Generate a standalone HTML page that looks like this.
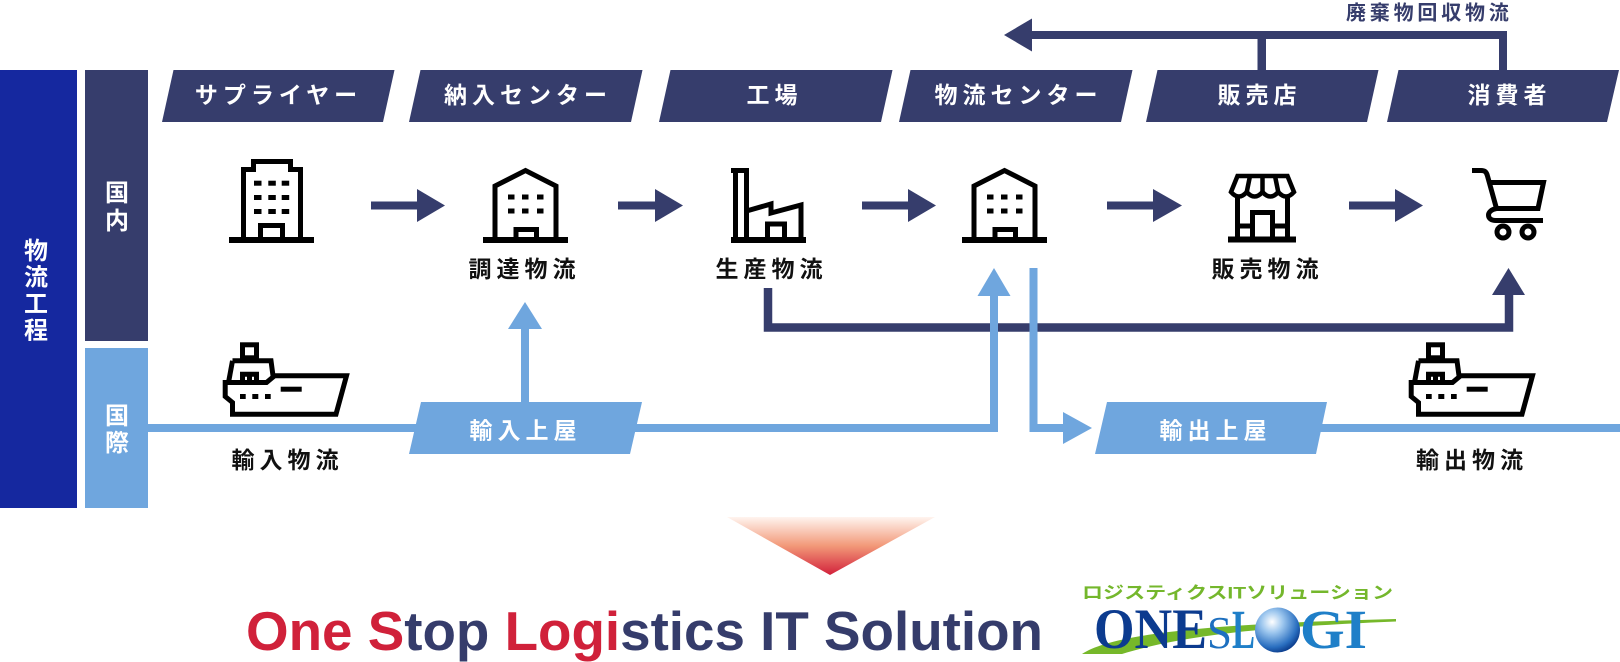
<!DOCTYPE html>
<html><head><meta charset="utf-8"><style>
html,body{margin:0;padding:0;background:#fff;}
svg{display:block;}
text{font-family:"Liberation Sans","Noto Sans CJK JP",sans-serif;font-weight:700;}
</style></head><body>
<svg width="1620" height="662" viewBox="0 0 1620 662" xmlns="http://www.w3.org/2000/svg">
<defs>
<linearGradient id="tri" x1="0" y1="0" x2="0" y2="1">
<stop offset="0" stop-color="#fff4ef"/>
<stop offset="0.5" stop-color="#f29878"/>
<stop offset="1" stop-color="#d2213b"/>
</linearGradient>
<radialGradient id="sph" cx="0.38" cy="0.32" r="0.7">
<stop offset="0" stop-color="#ffffff"/>
<stop offset="0.35" stop-color="#9cc6ee"/>
<stop offset="0.8" stop-color="#2a6fc0"/>
<stop offset="1" stop-color="#0d3f8f"/>
</radialGradient>
</defs>

<!-- side bars -->
<rect x="0" y="70" width="77" height="438" fill="#15289f"/>
<rect x="85" y="70" width="63" height="271" fill="#363d6c"/>
<rect x="85" y="348" width="63" height="160" fill="#6fa6de"/>
<g fill="#fff" font-size="24" text-anchor="middle">
<text x="36" y="259">物</text>
<text x="36" y="285.5">流</text>
<text x="36" y="312">工</text>
<text x="36" y="338.5">程</text>
<text x="117" y="201">国</text>
<text x="117" y="229">内</text>
<text x="117" y="424">国</text>
<text x="117" y="451">際</text>
</g>

<!-- headers -->
<g fill="#363d6c">
<polygon points="173.5,70 394.5,70 383,122 162,122"/>
<polygon points="420.5,70 642.5,70 631,122 409,122"/>
<polygon points="670.5,70 892.5,70 881,122 659,122"/>
<polygon points="910.5,70 1132.5,70 1121,122 899,122"/>
<polygon points="1157.5,70 1378.5,70 1367,122 1146,122"/>
<polygon points="1398.5,70 1619,70 1607,122 1387,122"/>
</g>
<g fill="#fff" font-size="23" text-anchor="middle" style="letter-spacing:5px">
<text x="278.5" y="103.2">サプライヤー</text>
<text x="528" y="103.2">納入センター</text>
<text x="774.5" y="103.2">工場</text>
<text x="1018.5" y="103.2">物流センター</text>
<text x="1259.5" y="103.2">販売店</text>
<text x="1509.5" y="103.2">消費者</text>
</g>

<!-- waste recovery -->
<g fill="#363d6c">
<rect x="1030" y="31" width="477" height="8"/>
<rect x="1257.5" y="31" width="8.5" height="39"/>
<rect x="1499" y="31" width="8" height="39"/>
<polygon points="1032,18.5 1004,35 1032,51.5"/>
</g>
<text x="1346" y="19.6" font-size="20" fill="#363d6c" style="letter-spacing:3.8px">廃棄物回収物流</text>

<!-- row arrows -->
<g fill="#363d6c">
<rect x="371" y="201.5" width="47" height="8"/><polygon points="417,189 445,205.5 417,222"/>
<rect x="618" y="201.5" width="38" height="8"/><polygon points="655,189 683,205.5 655,222"/>
<rect x="862" y="201.5" width="47" height="8"/><polygon points="908,189 936,205.5 908,222"/>
<rect x="1107" y="201.5" width="47" height="8"/><polygon points="1153,189 1182,205.5 1153,222"/>
<rect x="1349" y="201.5" width="47" height="8"/><polygon points="1395,189 1423,205.5 1395,222"/>
</g>

<!-- icons -->
<g fill="none" stroke="#000" stroke-width="5" stroke-linejoin="miter">
<!-- tower -->
<path d="M243.5,237 V169.5 H253.5 V161.5 H290.5 V169.5 H300.5 V237"/>
<path d="M260.5,237 V225.5 H282.5 V237"/>
<!-- house 2 -->
<path d="M495,237 V186 L525.5,170.5 L556,186 V237"/>
<path d="M516,237 V229.5 H536.5 V237"/>
<!-- house 4 -->
<path d="M974,237 V186 L1004.5,170.5 L1035,186 V237"/>
<path d="M995,237 V229.5 H1015.5 V237"/>
<!-- factory -->
<path d="M735.5,172 V237 M746.5,172 V237"/>
<path d="M746.5,211 L771,204 L771,213 L801,205 V237"/>
<path d="M767.5,237 V224 H784.5 V237"/>
<!-- store -->
<path d="M1231,192 L1237.5,176 H1287.5 L1294,192 Q1286,201 1278.25,192 Q1270.4,201 1262.5,192 Q1254.6,201 1246.75,192 Q1238.9,201 1231,192 Z" stroke-width="4.5"/>
<path d="M1250,176 L1246.75,192 M1262.5,176 V192 M1275,176 L1278.25,192" stroke-width="4.5"/>
<path d="M1237.5,196 V237 M1287.5,196 V237"/>
<path d="M1252.5,237 V212.5 H1272.5 V237"/>
<path d="M1237.5,226 H1252.5 M1272.5,226 H1287.5"/>
<!-- cart -->
<path d="M1472,170.5 H1481 C1485,170.5 1486.5,172 1487.5,176 L1496.5,208.5 C1491,209.5 1488.5,212.5 1488.5,215 C1488.5,218.5 1491.5,220.5 1496,220.5 H1543"/>
<path d="M1490,182.5 H1543.5 L1538,208.5 H1496.5"/>
<circle cx="1503" cy="232" r="6"/>
<circle cx="1528" cy="232" r="6"/>
</g>
<g fill="#000">
<rect x="229" y="237" width="85" height="6"/>
<rect x="254" y="180.7" width="7.5" height="5"/><rect x="268.3" y="180.7" width="7.5" height="5"/><rect x="281.7" y="180.7" width="7.5" height="5"/>
<rect x="254" y="195" width="7.5" height="5"/><rect x="268.3" y="195" width="7.5" height="5"/><rect x="281.7" y="195" width="7.5" height="5"/>
<rect x="254" y="209" width="7.5" height="5"/><rect x="268.3" y="209" width="7.5" height="5"/><rect x="281.7" y="209" width="7.5" height="5"/>
<rect x="483" y="237" width="85" height="6"/>
<rect x="508" y="194.5" width="6.5" height="5"/><rect x="522" y="194.5" width="6.5" height="5"/><rect x="537" y="194.5" width="6.5" height="5"/>
<rect x="508" y="208.5" width="6.5" height="5"/><rect x="522" y="208.5" width="6.5" height="5"/><rect x="537" y="208.5" width="6.5" height="5"/>
<rect x="962" y="237" width="85" height="6"/>
<rect x="987" y="194.5" width="6.5" height="5"/><rect x="1001" y="194.5" width="6.5" height="5"/><rect x="1016" y="194.5" width="6.5" height="5"/>
<rect x="987" y="208.5" width="6.5" height="5"/><rect x="1001" y="208.5" width="6.5" height="5"/><rect x="1016" y="208.5" width="6.5" height="5"/>
<rect x="731" y="168" width="18" height="5"/>
<rect x="731" y="237" width="75" height="6"/>
<rect x="1228" y="236.5" width="68" height="6"/>
</g>

<!-- row labels -->
<g fill="#111" font-size="23" text-anchor="middle" style="letter-spacing:5px">
<text x="524.5" y="277.2">調達物流</text>
<text x="771.5" y="277.2">生産物流</text>
<text x="1267.5" y="277.2">販売物流</text>
<text x="287.5" y="468.2">輸入物流</text>
<text x="1472" y="468.2">輸出物流</text>
</g>

<!-- navy route -->
<path d="M768,288 V327.5 H1509 V294" fill="none" stroke="#363d6c" stroke-width="8.5"/>
<polygon points="1492,295 1508.5,268 1525,295" fill="#363d6c"/>

<!-- light blue routes -->
<g fill="none" stroke="#6fa6de" stroke-width="8">
<path d="M148,428 H420"/>
<path d="M525,402 V328"/>
<path d="M630,428 H994 V295"/>
<path d="M1033.5,268 V428 H1064"/>
<path d="M1310,428 H1620"/>
</g>
<g fill="#6fa6de">
<polygon points="508,329 525,302 542,329"/>
<polygon points="977.5,296 994,268 1010.5,296"/>
<polygon points="1063,412 1092,428 1063,444"/>
<polygon points="421,402 642,402 630,454 409,454"/>
<polygon points="1107,402 1327,402 1316,454 1095,454"/>
</g>
<g fill="#fff" font-size="23" text-anchor="middle" style="letter-spacing:5px">
<text x="525.5" y="438.7">輸入上屋</text>
<text x="1215.5" y="438.7">輸出上屋</text>
</g>

<!-- ships -->
<g id="ship" transform="translate(222.5,342)">
<g fill="none" stroke="#000" stroke-width="5" stroke-linejoin="miter">
<rect x="20" y="2.8" width="14" height="13"/>
<path d="M10,18.8 H48.5 L50.5,33.8 H124 L113.5,72.2 H10 V60.5 L2.7,54.5 V40.5 H44 L52,33.8"/>
<path d="M10,18.8 L6,40.5"/>
<path d="M20,40.5 V32.2 H34 V40.5 M27,32.2 V40.5"/>
</g>
<g fill="#000">
<rect x="17.5" y="52" width="5.7" height="5"/>
<rect x="29.8" y="52" width="6" height="5"/>
<rect x="42.5" y="52" width="5.7" height="5"/>
<rect x="58.2" y="44.7" width="21" height="5"/>
</g>
</g>
<use href="#ship" transform="translate(1186,0)"/>

<!-- bottom triangle -->
<polygon points="727,517 935,517 830,575" fill="url(#tri)"/>

<!-- tagline -->
<text x="246" y="650" font-size="55" textLength="797" lengthAdjust="spacingAndGlyphs" fill="#353c6b"><tspan fill="#d0213a">One S</tspan>top <tspan fill="#d0213a">Logi</tspan>stics IT Solution</text>

<!-- logo -->
<text x="1082" y="598.5" font-size="17" textLength="311" lengthAdjust="spacingAndGlyphs" fill="#74b72c">ロジスティクスITソリューション</text>
<path d="M1082,654 C1110,636 1190,624 1396,619 L1396,621.5 C1260,627 1180,636 1122,654 Z" fill="#76b82a"/>
<text x="1094" y="648" font-family="'Liberation Serif',serif" font-weight="700" font-size="57" textLength="113" lengthAdjust="spacingAndGlyphs" fill="#0c3b8f" style="font-family:'Liberation Serif',serif">ONE</text>
<text x="1207" y="648" font-size="46" textLength="25" lengthAdjust="spacingAndGlyphs" fill="#1d6fbf" style="font-family:'Liberation Serif',serif;font-weight:400">S</text>
<text x="1232" y="648" font-size="55" textLength="23" lengthAdjust="spacingAndGlyphs" fill="#1f7fc8" style="font-family:'Liberation Serif',serif;font-weight:700">L</text>
<circle cx="1277.5" cy="630" r="22.5" fill="url(#sph)"/>
<text x="1300" y="648" font-size="55" textLength="67" lengthAdjust="spacingAndGlyphs" fill="#1f7fc8" style="font-family:'Liberation Serif',serif;font-weight:700">GI</text>
</svg>
</body></html>
